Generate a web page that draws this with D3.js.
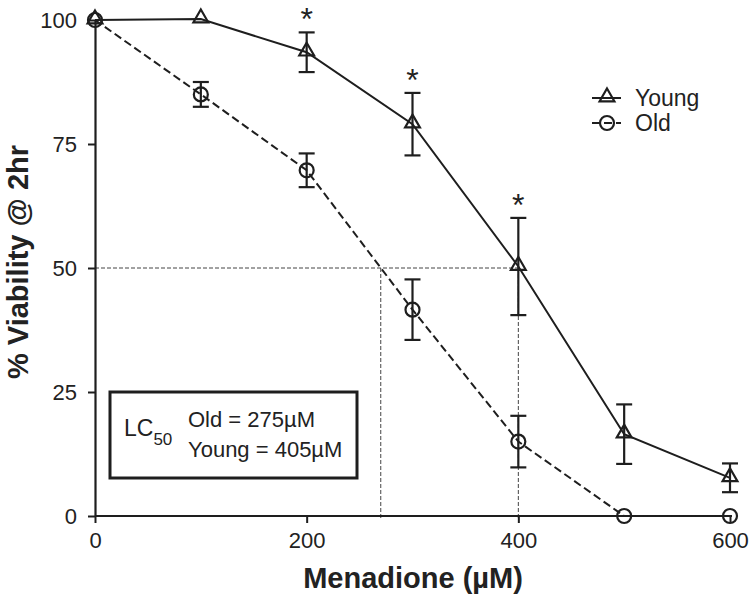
<!DOCTYPE html>
<html>
<head>
<meta charset="utf-8">
<script src="https://cdn.jsdelivr.net/npm/d3@7"></script>
<style>
  body { margin: 0; background: #fff; }
  svg { display: block; font-family: "Liberation Sans", Arial, sans-serif; }
</style>
</head>
<body>
<svg id="chart" width="750" height="600"></svg>
<script>
// ---- data ----
const doses = [0, 100, 200, 300, 400, 500, 600];
const youngMean = [100, 100.2, 93.5, 79.0, 50.3, 16.5, 7.7];
const youngErr  = [0, 0, 4.0, 6.3, 9.8, 6.0, 2.9];
const oldMean   = [100, 85.0, 69.7, 41.6, 15.0, 0, 0];
const oldErr    = [0, 2.5, 3.4, 6.1, 5.2, 0, 0];
const sigDoses  = [200, 300, 400];
const xTicks = [0, 200, 400, 600];
const yTicks = [0, 25, 50, 75, 100];
const lc50Level = 50;
const lc50Old = 270;    // drawn position of the old-line crossing
const lc50Young = 400;  // drawn position of the young crossing
const legendLabels = ["Young", "Old"];
const lcLines = ["Old = 275\u00B5M", "Young = 405\u00B5M"];

const svg = d3.select("#chart");
const ink = "#1e1e1e";

const x = d3.scaleLinear().domain([0, 600]).range([95, 730]);
const y = d3.scaleLinear().domain([0, 100]).range([516, 20]);

// ---- reference dashed lines ----
const ref = svg.append("g").attr("stroke", "#444").attr("stroke-width", 1)
  .attr("stroke-dasharray", "4,2").attr("fill", "none");
ref.append("line").attr("x1", x(0)).attr("x2", x(lc50Young))
  .attr("y1", y(lc50Level)).attr("y2", y(lc50Level));
ref.append("line").attr("x1", x(lc50Old)).attr("x2", x(lc50Old))
  .attr("y1", y(lc50Level)).attr("y2", y(0) + 4);
ref.append("line").attr("x1", x(lc50Young)).attr("x2", x(lc50Young))
  .attr("y1", y(lc50Level)).attr("y2", y(0) + 4);

// ---- axes ----
const yAxis = svg.append("g").attr("transform", `translate(${x(0)},0)`)
  .call(d3.axisLeft(y).tickValues(yTicks).tickSize(7).tickPadding(11).tickSizeOuter(0));
const xAxis = svg.append("g").attr("transform", `translate(0,${y(0)})`)
  .call(d3.axisBottom(x).tickValues(xTicks).tickSize(7).tickPadding(9).tickSizeOuter(0));
[xAxis, yAxis].forEach(a => {
  a.select(".domain").attr("stroke", ink).attr("stroke-width", 2.2);
  a.selectAll(".tick line").attr("stroke", ink).attr("stroke-width", 2);
  a.selectAll(".tick text").attr("fill", "#222").style("font-size", "22px")
    .style("font-family", "'Liberation Sans', Arial, sans-serif");
});
xAxis.select(".domain").attr("d", `M${x(0)},0H${x(600)+2}`);

// ---- axis titles ----
svg.append("text").attr("x", 413).attr("y", 588).attr("text-anchor", "middle")
  .attr("font-weight", "bold").attr("font-size", 29).attr("fill", "#222")
  .text("Menadione (\u00B5M)");
svg.append("text").attr("transform", "translate(28,262) rotate(-90)")
  .attr("text-anchor", "middle").attr("font-weight", "bold").attr("font-size", 29)
  .attr("fill", "#222").text("% Viability @ 2hr");

// ---- series ----
const youngData = doses.map((d, i) => ({ x: d, y: youngMean[i], e: youngErr[i] }));
const oldData = doses.map((d, i) => ({ x: d, y: oldMean[i], e: oldErr[i] }));
const line = d3.line().x(d => x(d.x)).y(d => y(d.y));

svg.append("path").datum(oldData).attr("d", line).attr("fill", "none")
  .attr("stroke", ink).attr("stroke-width", 2).attr("stroke-dasharray", "8,4");
svg.append("path").datum(youngData).attr("d", line).attr("fill", "none")
  .attr("stroke", ink).attr("stroke-width", 2);

function errorBars(data) {
  const g = svg.append("g").attr("stroke", ink).attr("stroke-width", 2.2);
  data.filter(d => d.e > 0).forEach(d => {
    const cx = x(d.x);
    g.append("line").attr("x1", cx).attr("x2", cx).attr("y1", y(d.y + d.e)).attr("y2", y(d.y - d.e));
    g.append("line").attr("x1", cx - 8).attr("x2", cx + 8).attr("y1", y(d.y + d.e)).attr("y2", y(d.y + d.e));
    g.append("line").attr("x1", cx - 8).attr("x2", cx + 8).attr("y1", y(d.y - d.e)).attr("y2", y(d.y - d.e));
  });
}
errorBars(oldData);
errorBars(youngData);

const tri = d3.symbol(d3.symbolTriangle, 95);
function drawTri(g, cx, cy) {
  g.append("path").attr("d", tri()).attr("transform", `translate(${cx},${cy - 1})`)
    .attr("fill", "none").attr("stroke", ink).attr("stroke-width", 2.2);
}
function drawCirc(g, cx, cy) {
  g.append("circle").attr("cx", cx).attr("cy", cy).attr("r", 7)
    .attr("fill", "none").attr("stroke", ink).attr("stroke-width", 2.2);
}
const markers = svg.append("g");
oldData.forEach(d => drawCirc(markers, x(d.x), y(d.y)));
youngData.forEach(d => drawTri(markers, x(d.x), y(d.y)));

// ---- significance asterisks ----
sigDoses.forEach(s => {
  const i = doses.indexOf(s);
  svg.append("text").attr("x", x(s)).attr("y", y(youngMean[i] + youngErr[i]) - 2)
    .attr("text-anchor", "middle").attr("font-size", 32).attr("fill", "#222").text("*");
});

// ---- legend ----
const lg = svg.append("g");
const lx0 = 592, lx1 = 621, lcx = 607;
const rows = [98, 123];
lg.append("line").attr("x1", lx0).attr("x2", lx1).attr("y1", rows[0]).attr("y2", rows[0])
  .attr("stroke", ink).attr("stroke-width", 2);
drawTri(lg, lcx, rows[0]);
lg.append("line").attr("x1", lx0).attr("x2", lx1).attr("y1", rows[1]).attr("y2", rows[1])
  .attr("stroke", ink).attr("stroke-width", 2).attr("stroke-dasharray", "8,4");
drawCirc(lg, lcx, rows[1]);
legendLabels.forEach((t, i) => {
  lg.append("text").attr("x", 635).attr("y", rows[i] + 8).attr("font-size", 23)
    .attr("fill", "#222").text(t);
});

// ---- LC50 box ----
const bx = svg.append("g");
bx.append("rect").attr("x", 110).attr("y", 392).attr("width", 247).attr("height", 86)
  .attr("fill", "none").attr("stroke", ink).attr("stroke-width", 3);
const lc = bx.append("text").attr("x", 124).attr("y", 436).attr("font-size", 23).attr("fill", "#222");
lc.append("tspan").text("LC");
lc.append("tspan").attr("dy", 9).attr("font-size", 17).text("50");
lcLines.forEach((t, i) => {
  bx.append("text").attr("x", 188).attr("y", 427 + i * 30).attr("font-size", 22)
    .attr("fill", "#222").text(t);
});
</script>
</body>
</html>
